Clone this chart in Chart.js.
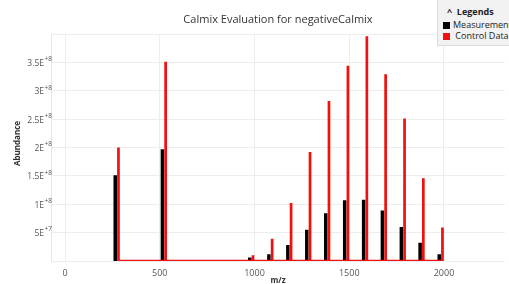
<!DOCTYPE html>
<html>
<head>
<meta charset="utf-8">
<script src="https://cdn.jsdelivr.net/npm/chart.js@4/dist/chart.umd.min.js"></script>
<style>
  html, body { margin: 0; padding: 0; background: #fff; overflow: hidden; }
  #wrap { position: relative; width: 509px; height: 284px; }
  #legendBox {
    position: absolute; left: 437px; top: -1px; width: 90px; height: 47px;
    background: #f2f2f2; border: 1px solid #dcdcdc; box-sizing: border-box;
    font-family: "Open Sans", "DejaVu Sans", sans-serif; font-size: 9px; color: #222;
  }
  #legendBox .head { position: absolute; left: 9px; top: 5px; font-weight: bold; }
  #legendBox .row { position: absolute; left: 5px; white-space: nowrap; line-height: 11px; }
  #legendBox .sw { display: inline-block; width: 7px; height: 7px; vertical-align: -1px; margin-right: 3px; }
</style>
</head>
<body>
<div id="wrap">
  <canvas id="calmixChart" width="509" height="284"></canvas>
  <div id="legendBox">
    <div class="head">^&nbsp;&nbsp;Legends</div>
    <div class="row" style="top:19px"><span class="sw" style="background:#000"></span>Measurement</div>
    <div class="row" style="top:30px"><span class="sw" style="background:#f01010"></span>&nbsp;Control Data</div>
  </div>
</div>
<script>
const titleText = 'Calmix Evaluation for negativeCalmix';
const yTitle = 'Abundance';
const mzValues = [265, 514, 975, 1076, 1176, 1276, 1376, 1476, 1576, 1675, 1775, 1874, 1975];
const measurement = [1.51e8, 1.97e8, 6e6, 1.2e7, 2.8e7, 5.5e7, 8.4e7, 1.07e8, 1.08e8, 8.9e7, 6.0e7, 3.2e7, 1.2e7];
const controlData = [2.0e8, 3.51e8, 1.0e7, 3.9e7, 1.02e8, 1.92e8, 2.82e8, 3.44e8, 3.96e8, 3.29e8, 2.51e8, 1.46e8, 5.9e7];
const xTicks = [0, 500, 1000, 1500, 2000];
const yTicks = [0, 5e7, 1e8, 1.5e8, 2e8, 2.5e8, 3e8, 3.5e8, 4e8];
// mantissa / exponent pairs for the y labels ('' = no label)
const yMantissa = ['', '5E', '1E', '1.5E', '2E', '2.5E', '3E', '3.5E', ''];
const yExponent = ['', '+7', '+8', '+8', '+8', '+8', '+8', '+8', ''];

// control spikes are drawn a little to the right of the measured ones
const CONTROL_SHIFT = 17;

function spikes(xs, ys, shift, joined) {
    const pts = [];
    xs.forEach((x, i) => {
        pts.push({ x: x + shift, y: 0 });
        pts.push({ x: x + shift, y: ys[i] });
        pts.push({ x: x + shift, y: joined ? 0 : null });
    });
    return pts;
}

const FONT = '"Open Sans", "DejaVu Sans", sans-serif';

// title, y axis title and the E-notation y labels with superscript exponent
const textPlugin = {
    id: 'extraText',
    afterDraw(chart) {
        const c = chart.ctx;
        const y = chart.scales.y;
        c.save();
        c.font = '11px ' + FONT;
        c.fillStyle = '#333';
        c.textAlign = 'center';
        c.textBaseline = 'middle';
        c.fillText(titleText, 278, 20);

        c.save();
        c.translate(18, (chart.chartArea.top + chart.chartArea.bottom) / 2 - 4);
        c.rotate(-Math.PI / 2);
        c.font = 'bold 8px ' + FONT;
        c.fillText(yTitle, 0, 0);
        c.restore();

        yTicks.forEach((v, i) => {
            if (!yMantissa[i]) return;
            const py = y.getPixelForValue(v);
            c.font = '8.5px ' + FONT;
            c.fillStyle = '#555';
            c.textAlign = 'right';
            c.textBaseline = 'middle';
            c.fillText(yMantissa[i], 44, py + 1);
            c.font = '6.5px ' + FONT;
            c.textAlign = 'left';
            c.fillText(yExponent[i], 44.5, py - 3);
        });
        c.restore();
    }
};

const ctx = document.getElementById('calmixChart').getContext('2d');
new Chart(ctx, {
    type: 'scatter',
    data: {
        datasets: [
            {
                label: 'Measurement',
                data: spikes(mzValues, measurement, 0, false),
                showLine: true,
                borderColor: '#000',
                backgroundColor: '#000',
                borderWidth: 3.5,
                borderJoinStyle: 'bevel',
                pointRadius: 0,
                spanGaps: false,
                order: 2
            },
            {
                label: 'Control Data',
                data: spikes(mzValues, controlData, CONTROL_SHIFT, true),
                showLine: true,
                borderColor: '#f01010',
                backgroundColor: '#f01010',
                borderWidth: 2.7,
                borderJoinStyle: 'bevel',
                pointRadius: 0,
                order: 1
            }
        ]
    },
    options: {
        responsive: false,
        animation: false,
        layout: { padding: { top: 34, right: 4, left: 0, bottom: 0 } },
        plugins: {
            legend: { display: false },
            tooltip: { enabled: false }
        },
        scales: {
            x: {
                type: 'linear',
                min: -74,
                max: 2322,
                afterBuildTicks: s => { s.ticks = xTicks.map(v => ({ value: v })); },
                afterFit: s => { s.height = 23; },
                grid: { color: '#ededed', drawTicks: false },
                border: { display: false },
                ticks: {
                    font: { family: FONT, size: 9 }, color: '#555', padding: 7,
                    callback: v => String(v)
                },
                title: {
                    display: true, text: 'm/z', color: '#333', padding: { top: 0, bottom: -2 },
                    font: { family: FONT, size: 8, weight: 'bold' }
                }
            },
            y: {
                min: 0,
                max: 4e8,
                afterBuildTicks: s => { s.ticks = yTicks.map(v => ({ value: v })); },
                afterFit: s => { s.width = 51; },
                grid: { color: '#ededed', drawTicks: false },
                border: { display: true, color: '#e6e6e6' },
                ticks: { callback: () => '' }
            }
        }
    },
    plugins: [textPlugin]
});
</script>
</body>
</html>
